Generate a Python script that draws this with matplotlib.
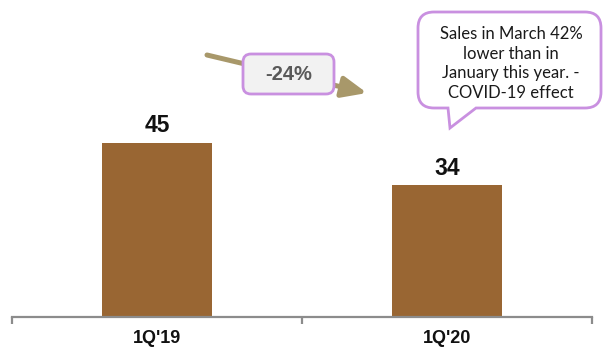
import matplotlib
matplotlib.use("Agg")
import matplotlib.pyplot as plt
from matplotlib.patches import FancyBboxPatch, PathPatch, FancyArrowPatch
from matplotlib.path import Path

# Quarterly sales
categories = ["1Q'19", "1Q'20"]
values = [45, 34]
change_label = "-24%"
note_text = "Sales in March 42%\nlower than in\nJanuary this year. -\nCOVID-19 effect"

W, H = 605, 349
fig = plt.figure(figsize=(W / 100, H / 100), dpi=100)

bar_color = "#996633"
axis_color = "#8c8c8c"

ax = fig.add_axes([12 / W, 32 / H, 580 / W, 317 / H])
x = list(range(len(categories)))
bars = ax.bar(x, values, width=0.376, color=bar_color, zorder=2)
ax.set_xlim(-0.5, len(categories) - 0.5)
ax.set_ylim(0, 81.9)
for b, v in zip(bars, values):
    ax.annotate(f"{v}", (b.get_x() + b.get_width() / 2, v), xytext=(0, 4),
                textcoords="offset points", ha="center", va="bottom",
                fontsize=16.5, fontweight="bold", family="Liberation Sans",
                color="#111111")
for s in ["top", "left", "right"]:
    ax.spines[s].set_visible(False)
ax.spines["bottom"].set_color(axis_color)
ax.spines["bottom"].set_linewidth(1.6)
ax.set_yticks([])
ax.set_xticks([-0.5, 0.5, 1.5], minor=False)
ax.set_xticklabels([])
ax.tick_params(axis="x", length=5, width=1.6, color=axis_color, direction="out")
ax.set_xticks(x, minor=True)
ax.set_xticklabels(categories, minor=True, fontsize=13, fontweight="bold",
                   family="Liberation Sans", color="#111111")
ax.tick_params(axis="x", which="minor", length=0, pad=9.5)

# Overlay in pixel coordinates for the callouts
ov = fig.add_axes([0, 0, 1, 1])
ov.set_xlim(0, W)
ov.set_ylim(H, 0)
ov.axis("off")
ov.patch.set_alpha(0)

arrow = FancyArrowPatch((207, 55), (367, 93), arrowstyle="-|>,head_length=1.05,head_width=0.45",
                        mutation_scale=14, color="#a8986a", lw=3.6, shrinkA=0, shrinkB=0, zorder=1)
ov.add_patch(arrow)

box = FancyBboxPatch((243, 54), 91, 40, boxstyle="round,pad=0,rounding_size=8",
                     fc="#f2f2f2", ec="#c990e0", lw=2, zorder=3)
ov.add_patch(box)
ov.text(289, 75, change_label, ha="center", va="center", fontsize=14.5,
        fontweight="bold", family="Liberation Sans", color="#595959", zorder=4)

# Speech bubble with a tail
L, R, T, B, r = 418, 601, 12, 108, 16
tl, tr, tip = 448, 476, (450, 128)
verts = [
    (L + r, T), (R - r, T), (R, T), (R, T + r), (R, B - r), (R, B), (R - r, B),
    (tr, B), tip, (tl, B), (L + r, B), (L, B), (L, B - r), (L, T + r), (L, T), (L + r, T),
    (L + r, T),
]
codes = [
    Path.MOVETO, Path.LINETO, Path.CURVE3, Path.CURVE3, Path.LINETO, Path.CURVE3, Path.CURVE3,
    Path.LINETO, Path.LINETO, Path.LINETO, Path.LINETO, Path.CURVE3, Path.CURVE3, Path.LINETO,
    Path.CURVE3, Path.CURVE3, Path.CLOSEPOLY,
]
ov.add_patch(PathPatch(Path(verts, codes), fc="white", ec="#c990e0", lw=2, zorder=3))
ov.text(511, 63.5, note_text, ha="center", va="center", fontsize=12, family="Lato",
        color="#1a1a1a", linespacing=1.3, zorder=4)

fig.savefig("out.png", dpi=100)
